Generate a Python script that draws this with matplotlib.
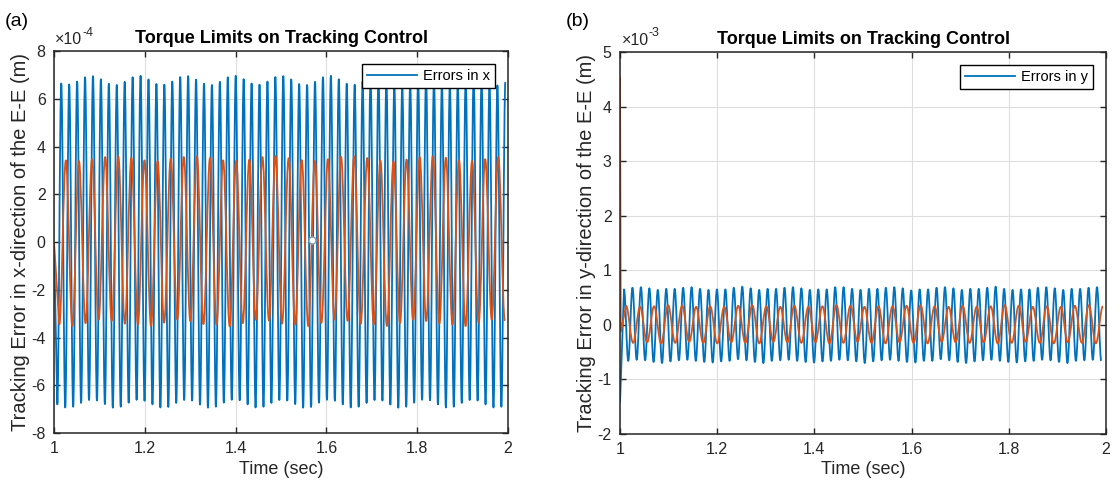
import numpy as np
import matplotlib.pyplot as plt
from matplotlib.lines import Line2D
from matplotlib.path import Path
from matplotlib.patches import PathPatch

plt.rcParams["font.family"] = ["Liberation Sans", "DejaVu Sans"]
plt.rcParams["axes.unicode_minus"] = False

BLUE = "#0072BD"
ORANGE = "#D95319"
DARK = "#262626"

time_ticks = [1, 1.2, 1.4, 1.6, 1.8, 2]
time_labels = ["1", "1.2", "1.4", "1.6", "1.8", "2"]

# ---- panel (a): x-direction errors, values in 1e-4 m ----
ax_a_yticks = [-8, -6, -4, -2, 0, 2, 4, 6, 8]

# first / last turning point of each trace (sec)
xa_blue_span = (1.0073, 1.9941)
xa_orange_span = (1.0117, 1.9930)

xa_blue_troughs = [
    -6.80, -6.93, -6.90, -6.74, -6.62, -6.64,
    -6.79, -6.94, -6.90, -6.73, -6.61, -6.65,
    -6.80, -6.93, -6.91, -6.74, -6.62, -6.64,
    -6.81, -6.94, -6.90, -6.73, -6.61, -6.63,
    -6.80, -6.93, -6.90, -6.74, -6.62, -6.64,
    -6.79, -6.94, -6.91, -6.73, -6.61, -6.65,
    -6.80, -6.93, -6.90, -6.74, -6.62, -6.64,
    -6.81, -6.94, -6.90, -6.73, -6.61, -6.63,
    -6.80, -6.93, -6.90, -6.74, -6.62, -6.64,
    -6.80, -6.93, -6.90,
]
xa_blue_peaks = [
    6.64, 6.60, 6.72, 6.90, 6.95, 6.82,
    6.63, 6.58, 6.71, 6.90, 6.96, 6.81,
    6.62, 6.59, 6.72, 6.91, 6.95, 6.80,
    6.63, 6.58, 6.71, 6.90, 6.96, 6.82,
    6.64, 6.59, 6.72, 6.91, 6.95, 6.81,
    6.62, 6.58, 6.71, 6.90, 6.96, 6.82,
    6.63, 6.59, 6.72, 6.91, 6.95, 6.80,
    6.62, 6.58, 6.71, 6.90, 6.96, 6.82,
    6.63, 6.59, 6.72, 6.90, 6.95, 6.81,
    6.62, 6.56, 6.70,
]
xa_orange_troughs = [
    -3.45, -3.52, -3.40, -3.26, -3.30, -3.42,
    -3.46, -3.52, -3.38, -3.25, -3.31, -3.44,
    -3.45, -3.53, -3.40, -3.26, -3.29, -3.42,
    -3.46, -3.52, -3.39, -3.25, -3.30, -3.43,
    -3.45, -3.52, -3.40, -3.26, -3.31, -3.42,
    -3.46, -3.52, -3.39, -3.25, -3.30,
]
xa_orange_peaks = [
    3.42, 3.39, 3.46, 3.56, 3.59, 3.52,
    3.42, 3.39, 3.48, 3.56, 3.59, 3.52,
    3.42, 3.40, 3.45, 3.56, 3.60, 3.51,
    3.43, 3.39, 3.47, 3.57, 3.59, 3.52,
    3.42, 3.38, 3.46, 3.56, 3.59, 3.53,
    3.42, 3.39, 3.47, 3.56,
]
xa_datatip = (1.568, 0.1)

# ---- panel (b): y-direction errors, values in 1e-3 m ----
ax_b_yticks = [-2, -1, 0, 1, 2, 3, 4, 5]

yb_blue_start = [-1.42]
yb_blue_span = (1.0082, 1.9902)
yb_blue_peaks = [
    0.65, 0.68, 0.69, 0.67, 0.64, 0.66,
    0.66, 0.68, 0.69, 0.66, 0.64, 0.65,
    0.65, 0.68, 0.70, 0.67, 0.64, 0.66,
    0.66, 0.68, 0.69, 0.67, 0.64, 0.65,
    0.65, 0.69, 0.69, 0.66, 0.64, 0.66,
    0.66, 0.68, 0.69, 0.67, 0.63, 0.65,
    0.65, 0.68, 0.69, 0.67, 0.64, 0.66,
    0.66, 0.68, 0.70, 0.66, 0.64, 0.65,
    0.65, 0.68, 0.69, 0.67, 0.64, 0.66,
    0.66, 0.68, 0.69,
]
yb_blue_troughs = [
    -0.66, -0.64, -0.65, -0.68, -0.70, -0.67,
    -0.65, -0.64, -0.66, -0.68, -0.69, -0.67,
    -0.66, -0.63, -0.65, -0.68, -0.70, -0.66,
    -0.65, -0.64, -0.66, -0.68, -0.69, -0.67,
    -0.66, -0.64, -0.65, -0.67, -0.70, -0.67,
    -0.65, -0.64, -0.66, -0.68, -0.69, -0.66,
    -0.66, -0.63, -0.65, -0.68, -0.70, -0.67,
    -0.65, -0.64, -0.66, -0.68, -0.69, -0.67,
    -0.66, -0.64, -0.65, -0.68, -0.70, -0.66,
    -0.65, -0.64, -0.66,
]

yb_orange_start_t = [1.0, 1.0015]
yb_orange_start = [4.55, -0.13]
yb_orange_span = (1.0124, 1.9936)
yb_orange_peaks = [
    0.35, 0.33, 0.34, 0.36, 0.35, 0.33,
    0.34, 0.33, 0.35, 0.36, 0.34, 0.33,
    0.35, 0.33, 0.34, 0.36, 0.35, 0.33,
    0.34, 0.34, 0.35, 0.36, 0.34, 0.33,
    0.35, 0.33, 0.34, 0.36, 0.35, 0.33,
    0.34, 0.33, 0.35, 0.36, 0.34,
]
yb_orange_troughs = [
    -0.33, -0.32, -0.34, -0.33, -0.31, -0.33,
    -0.34, -0.32, -0.33, -0.34, -0.31, -0.32,
    -0.33, -0.32, -0.34, -0.33, -0.31, -0.33,
    -0.34, -0.32, -0.33, -0.34, -0.31, -0.32,
    -0.33, -0.32, -0.34, -0.33, -0.31, -0.33,
    -0.34, -0.32, -0.33, -0.34,
]


def wave(ax, span, first, second, start_t, start_v, color):
    # turning points alternate first[0], second[0], first[1], ...
    n = len(first) + len(second)
    t = np.linspace(span[0], span[1], n)
    v = np.empty(n)
    v[0::2] = first
    v[1::2] = second
    # straight lead-in, then smooth curves with flat tangents at each turning point
    verts = [(start_t[0], start_v[0])]
    codes = [Path.MOVETO]
    for st, sv in zip(start_t[1:], start_v[1:]):
        verts.append((st, sv))
        codes.append(Path.LINETO)
    verts.append((t[0], v[0]))
    codes.append(Path.LINETO)
    k = 0.3642
    for i in range(1, n):
        h = t[i] - t[i - 1]
        verts += [(t[i - 1] + k * h, v[i - 1]), (t[i] - k * h, v[i]), (t[i], v[i])]
        codes += [Path.CURVE4] * 3
    ax.add_patch(PathPatch(Path(verts, codes), fill=False, edgecolor=color,
                           lw=1.3, joinstyle="round"))


def style(ax, yticks, ylabel, exponent):
    ax.set_xlim(1, 2)
    ax.set_ylim(yticks[0], yticks[-1])
    ax.set_xticks(time_ticks)
    ax.set_xticklabels(time_labels)
    ax.set_yticks(yticks)
    ax.set_yticklabels([str(v) for v in yticks])
    ax.grid(True, color="#dedede", lw=0.8)
    ax.set_axisbelow(True)
    ax.tick_params(direction="in", top=True, right=True, length=4,
                   width=1.0, labelsize=11.5, colors=DARK, pad=6)
    for s in ax.spines.values():
        s.set_color(DARK)
        s.set_linewidth(1.1)
    ax.set_xlabel("Time (sec)", fontsize=13, color=DARK, labelpad=3)
    ax.set_ylabel(ylabel, fontsize=14.5, color=DARK, labelpad=1)
    ax.set_title("Torque Limits on Tracking Control", fontsize=13,
                 fontweight="bold", pad=6)
    ax.annotate("\u00d710", xy=(0, 1), xycoords="axes fraction",
                xytext=(1, 3), textcoords="offset points",
                fontsize=11.5, color=DARK, va="bottom", ha="left")
    ax.annotate(exponent, xy=(0, 1), xycoords="axes fraction",
                xytext=(20.5, 9), textcoords="offset points",
                fontsize=9, color=DARK, va="bottom", ha="left")


fig = plt.figure(figsize=(11.2, 4.91), dpi=100)
ax_a = fig.add_axes([0.0482, 0.1181, 0.4054, 0.778])
ax_b = fig.add_axes([0.5536, 0.1161, 0.4339, 0.778])

# panel (a)
wave(ax_a, xa_blue_span, xa_blue_troughs, xa_blue_peaks, [1.0], [0.0], BLUE)
wave(ax_a, xa_orange_span, xa_orange_troughs, xa_orange_peaks, [1.0], [0.0], ORANGE)
ax_a.plot(*xa_datatip, "o", ms=5, mfc="white", mec="#9a9a9a", mew=1.0)
style(ax_a, ax_a_yticks, "Tracking Error in x-direction of the E-E (m)", "-4")

# panel (b)
wave(ax_b, yb_blue_span, yb_blue_peaks, yb_blue_troughs, [1.0], yb_blue_start, BLUE)
wave(ax_b, yb_orange_span, yb_orange_peaks, yb_orange_troughs,
     yb_orange_start_t, yb_orange_start, ORANGE)
style(ax_b, ax_b_yticks, "Tracking Error in y-direction of the E-E (m)", "-3")

for ax, label in [(ax_a, "Errors in x"), (ax_b, "Errors in y")]:
    leg = ax.legend([Line2D([], [], color=BLUE, lw=1.3)], [label],
                    loc="upper right", fontsize=10.5, fancybox=False,
                    edgecolor="black", framealpha=1, handlelength=3.4,
                    borderaxespad=0.9, borderpad=0.35, handletextpad=0.4)
    leg.get_frame().set_linewidth(1.0)

fig.text(5 / 1120, 1 - 22 / 491, "(a)", fontsize=14, va="center", ha="left")
fig.text(566 / 1120, 1 - 22 / 491, "(b)", fontsize=14, va="center", ha="left")

fig.savefig("out.png", dpi=100)
